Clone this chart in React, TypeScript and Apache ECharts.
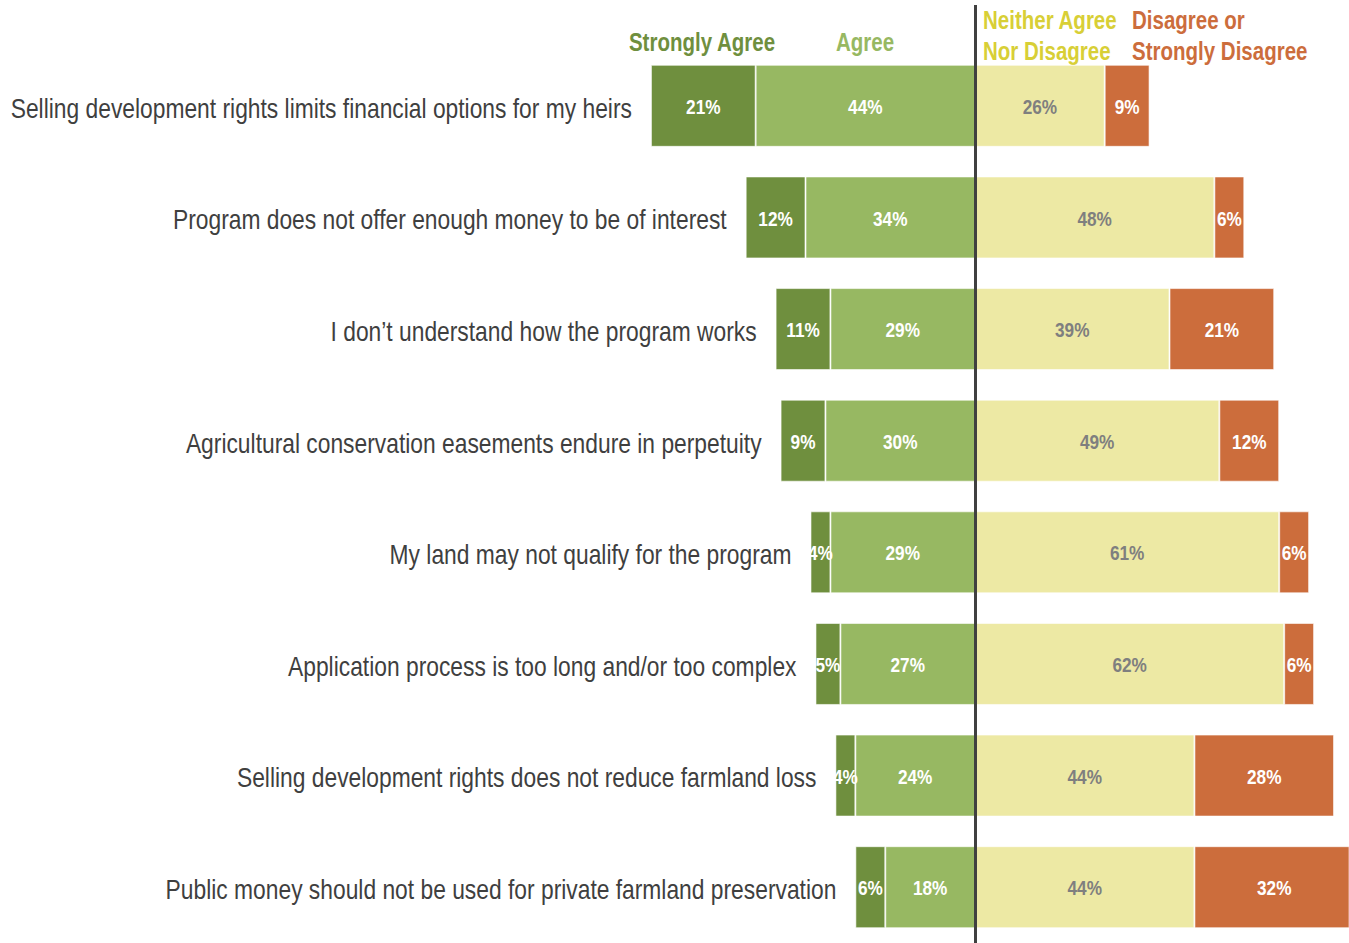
import React, { useEffect, useRef } from "react";
import * as echarts from "echarts";

const categories = [
  "Selling development rights limits financial options for my heirs",
  "Program does not offer enough money to be of interest",
  "I don\u2019t understand how the program works",
  "Agricultural conservation easements endure in perpetuity",
  "My land may not qualify for the program",
  "Application process is too long and/or too complex",
  "Selling development rights does not reduce farmland loss",
  "Public money should not be used for private farmland preservation",
];
const stronglyAgree = [21, 12, 11, 9, 4, 5, 4, 6];
const agree = [44, 34, 29, 30, 29, 27, 24, 18];
const neither = [26, 48, 39, 49, 61, 62, 44, 44];
const disagree = [9, 6, 21, 12, 6, 6, 28, 32];

const FONT = "'Liberation Sans', Arial, sans-serif";
const NARROW = 0.82;
const C_SA = "#6f8f3e";
const C_A = "#97b862";
const C_N = "#ede9a4";
const C_D = "#cc6d3c";

export default function App() {
  const ref = useRef<HTMLDivElement>(null);
  useEffect(() => {
    if (!ref.current) return;
    const chart = echarts.init(ref.current, null, { renderer: "svg" });
    const barCommon = {
      type: "bar",
      stack: "total",
      barWidth: 82,
      label: { show: false },
    };
    const border = { borderColor: "rgba(255,255,255,0.6)", borderWidth: 1 };
    const titleText = (text: string, x: number, y: number, fill: string, align: string) => ({
      type: "text",
      x,
      y,
      scaleX: NARROW,
      style: {
        text,
        fill,
        font: `bold 25px ${FONT}`,
        lineHeight: 31,
        align,
        verticalAlign: "middle",
      },
    });
    chart.setOption({
      animation: false,
      grid: { left: 626, width: 723, top: 50, height: 896 },
      xAxis: { type: "value", min: -70, max: 75, show: false },
      yAxis: { type: "category", data: categories, inverse: true, show: false },
      series: [
        {
          ...barCommon,
          name: "Agree",
          data: agree.map((v) => -v),
          itemStyle: { ...border, color: C_A },
        },
        {
          ...barCommon,
          name: "Strongly Agree",
          data: stronglyAgree.map((v) => -v),
          itemStyle: { ...border, color: C_SA },
        },
        {
          ...barCommon,
          name: "Neither Agree Nor Disagree",
          data: neither,
          itemStyle: { ...border, color: C_N },
        },
        {
          ...barCommon,
          name: "Disagree or Strongly Disagree",
          data: disagree,
          itemStyle: { ...border, color: C_D },
        },
        {
          type: "custom",
          name: "labels",
          silent: true,
          z: 10,
          data: categories.map((_, i) => [0, i]),
          encode: { x: 0, y: 1 },
          renderItem: (params: any, api: any) => {
            const i = params.dataIndex;
            const sa = stronglyAgree[i];
            const a = agree[i];
            const n = neither[i];
            const d = disagree[i];
            const segs: [number, number, string][] = [
              [-(a + sa / 2), sa, "#ffffff"],
              [-a / 2, a, "#ffffff"],
              [n / 2, n, "#7f7f7f"],
              [n + d / 2, d, "#ffffff"],
            ];
            const children: any[] = segs.map(([xv, v, col]) => {
              const p = api.coord([xv, i]);
              return {
                type: "text",
                x: p[0],
                y: p[1] + 1,
                scaleX: NARROW,
                style: {
                  text: v + "%",
                  fill: col,
                  font: `bold 21px ${FONT}`,
                  align: "center",
                  verticalAlign: "middle",
                },
              };
            });
            const left = api.coord([-(sa + a), i]);
            children.push({
              type: "text",
              x: left[0] - 19,
              y: left[1] + 2,
              scaleX: 0.815,
              style: {
                text: categories[i],
                fill: "#3f3f3f",
                font: `28px ${FONT}`,
                align: "right",
                verticalAlign: "middle",
              },
            });
            return { type: "group", children };
          },
        },
      ],
      graphic: [
        {
          type: "line",
          shape: { x1: 975.5, y1: 5, x2: 975.5, y2: 943 },
          style: { stroke: "#404040", lineWidth: 3 },
          z: 100,
        },
        titleText("Strongly Agree", 702, 42, C_SA, "center"),
        titleText("Agree", 865, 42, C_A, "center"),
        titleText("Neither Agree\nNor Disagree", 983, 36, "#d8cf36", "left"),
        titleText("Disagree or\nStrongly Disagree", 1132, 36, C_D, "left"),
      ],
    });
    return () => chart.dispose();
  }, []);
  return (
    <div
      ref={ref}
      style={{ position: "fixed", left: 0, top: 0, width: 1349, height: 943, background: "#fff" }}
    />
  );
}
